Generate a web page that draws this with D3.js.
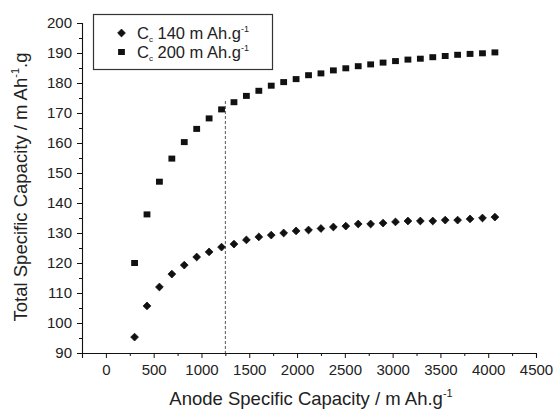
<!DOCTYPE html>
<html>
<head>
<meta charset="utf-8">
<script src="https://cdn.jsdelivr.net/npm/d3@7"></script>
<style>
  html, body { margin: 0; padding: 0; background: #fff; }
  svg { display: block; }
  text { font-family: "Liberation Sans", Arial, Helvetica, sans-serif; fill: #222; }
</style>
</head>
<body>
<svg id="chart" width="558" height="410"></svg>
<script>
// ---- data ----
const anodeCapacity = [300, 430, 560, 690, 820, 950, 1080, 1210, 1340, 1470,
                       1600, 1730, 1860, 1990, 2120, 2250, 2380, 2510, 2640, 2770,
                       2900, 3030, 3160, 3290, 3420, 3550, 3680, 3810, 3940, 4070];
const totalCap140 = [95.3, 105.7, 112.0, 116.3, 119.3, 122.0, 123.7, 125.3, 126.3, 127.7,
                     128.7, 129.3, 130.0, 130.7, 131.0, 131.5, 132.0, 132.3, 133.0, 133.0,
                     133.3, 133.7, 134.0, 134.0, 134.0, 134.3, 134.3, 134.7, 135.0, 135.3];
const totalCap200 = [120.0, 136.2, 147.1, 154.8, 160.3, 164.7, 168.2, 171.2, 173.6, 175.7,
                     177.4, 179.1, 180.3, 181.3, 182.6, 183.2, 184.2, 184.9, 185.6, 186.2,
                     186.8, 187.3, 187.8, 188.1, 188.6, 189.0, 189.4, 189.7, 189.9, 190.2];
const xTicks = [0, 500, 1000, 1500, 2000, 2500, 3000, 3500, 4000, 4500];
const xMinorTicks = [-250, 250, 750, 1250, 1750, 2250, 2750, 3250, 3750, 4250];
const yTicks = [90, 100, 110, 120, 130, 140, 150, 160, 170, 180, 190, 200];
const yMinorTicks = [95, 105, 115, 125, 135, 145, 155, 165, 175, 185, 195];
const markerLine = { x: 1250, yTop: 174 };
const legendLabels = ["140 m Ah.g", "200 m Ah.g"];

// ---- drawing ----
const svg = d3.select("#chart");
const x = d3.scaleLinear().domain([-250, 4500]).range([82, 536]);
const y = d3.scaleLinear().domain([90, 200]).range([353, 23]);
const ink = "#111";

// dashed marker line
svg.append("line")
  .attr("x1", x(markerLine.x)).attr("x2", x(markerLine.x))
  .attr("y1", y(markerLine.yTop)).attr("y2", y(90))
  .attr("stroke", "#444").attr("stroke-width", 0.9)
  .attr("stroke-dasharray", "3,2");

// axes
svg.append("g").attr("transform", `translate(0,${y(90)})`)
  .call(d3.axisBottom(x).tickValues(xTicks).tickSize(5).tickPadding(6).tickFormat(d3.format("d")));
svg.append("g").attr("transform", `translate(0,${y(90)})`)
  .call(d3.axisBottom(x).tickValues(xMinorTicks).tickSize(3).tickFormat(""))
  .call(g => g.select(".domain").remove());
svg.append("g").attr("transform", `translate(${x(-250)},0)`)
  .call(d3.axisLeft(y).tickValues(yTicks).tickSize(5).tickPadding(5));
svg.append("g").attr("transform", `translate(${x(-250)},0)`)
  .call(d3.axisLeft(y).tickValues(yMinorTicks).tickSize(3).tickFormat(""))
  .call(g => g.select(".domain").remove());

svg.selectAll(".domain").attr("stroke", ink).attr("stroke-width", 1.1);
svg.selectAll(".tick line").attr("stroke", ink).attr("stroke-width", 1);
svg.selectAll(".tick text")
  .attr("font-size", 15).attr("fill", "#222")
  .attr("font-family", '"Liberation Sans", Arial, sans-serif');

// axis titles
const xt = svg.append("text").attr("x", 311).attr("y", 405)
  .attr("text-anchor", "middle").attr("font-size", 18.5);
xt.append("tspan").text("Anode Specific Capacity / m Ah.g");
xt.append("tspan").attr("font-size", 11).attr("dy", -8).text("-1");

const yt = svg.append("text")
  .attr("transform", `translate(27,187) rotate(-90)`)
  .attr("text-anchor", "middle").attr("font-size", 18.5);
yt.append("tspan").text("Total Specific Capacity / m Ah");
yt.append("tspan").attr("font-size", 11).attr("dy", -8).text("-1");
yt.append("tspan").attr("dy", 8).text(".g");

// markers
const diamond = s => `M0,${-s}L${s},0L0,${s}L${-s},0Z`;
const pts140 = anodeCapacity.map((a, i) => ({ a, v: totalCap140[i] }));
const pts200 = anodeCapacity.map((a, i) => ({ a, v: totalCap200[i] }));

svg.append("g").selectAll("path").data(pts140).join("path")
  .attr("d", diamond(3.9))
  .attr("transform", d => `translate(${x(d.a)},${y(d.v)})`)
  .attr("fill", ink).attr("stroke", ink).attr("stroke-width", 0.8).attr("stroke-linejoin", "round");

svg.append("g").selectAll("rect").data(pts200).join("rect")
  .attr("x", d => x(d.a) - 3.4).attr("y", d => y(d.v) - 3)
  .attr("width", 6.8).attr("height", 6)
  .attr("fill", ink);

// legend
const lg = svg.append("g");
lg.append("rect").attr("x", 93.5).attr("y", 14.5).attr("width", 179).attr("height", 55)
  .attr("fill", "#fff").attr("stroke", "#333").attr("stroke-width", 1.2);
const rows = [33, 52];
lg.append("path").attr("d", diamond(3.9))
  .attr("transform", `translate(121.5,${rows[0]})`).attr("fill", ink)
  .attr("stroke", ink).attr("stroke-width", 0.8);
lg.append("rect").attr("x", 121.5 - 3.4).attr("y", rows[1] - 3)
  .attr("width", 6.8).attr("height", 6).attr("fill", ink);
legendLabels.forEach((lab, i) => {
  const t = lg.append("text").attr("x", 137).attr("y", rows[i] + 6).attr("font-size", 16.5);
  t.append("tspan").text("C");
  t.append("tspan").attr("font-size", 8).attr("dy", 3).text("c");
  t.append("tspan").attr("dy", -3).text(" " + lab);
  t.append("tspan").attr("font-size", 9).attr("dy", -7).text("-1");
});
</script>
</body>
</html>
